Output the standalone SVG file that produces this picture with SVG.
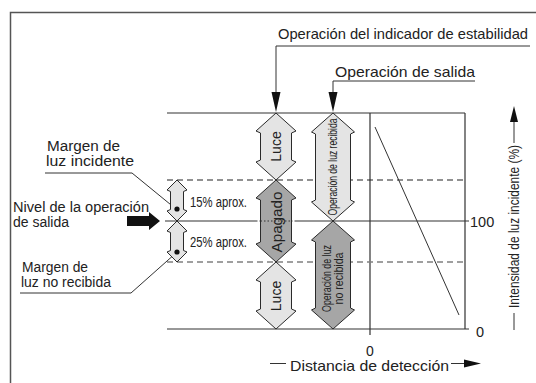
<svg xmlns="http://www.w3.org/2000/svg" width="536" height="383" viewBox="0 0 536 383">
<style>
text{font-family:"Liberation Sans",Arial,sans-serif;fill:#222;}
.lbl{font-size:14.5px;}
.two{font-size:14px;}
.ln{stroke:#333;stroke-width:1.2;fill:none;}
.thin{stroke:#333;stroke-width:1;fill:none;}
.dash{stroke:#222;stroke-width:1.1;stroke-dasharray:6 4;fill:none;}
.dash2{stroke:#808080;stroke-width:1.3;stroke-dasharray:6 4;fill:none;}
.dot{stroke:#333;stroke-width:1;stroke-dasharray:1.5 2;fill:none;}
.light{fill:#e4e4e4;stroke:#2a2a2a;stroke-width:1;}
.dark{fill:#a6a6a6;stroke:#2a2a2a;stroke-width:1;}
.blk{fill:#111;}
</style>
<rect width="536" height="383" fill="#fff"/>
<path d="M10.5,383 V12.5 H536" stroke="#555" stroke-width="1.5" fill="none"/>

<g id="grid">
<path class="ln" d="M167,113 H465 M167,329 H469 M370,113 V335 M465,113 V329"/>
<path class="ln" d="M165,221 H256 M296,221 H469"/>
<path class="dot" d="M256,221 H296"/>
<path class="dash" d="M167,180 H465"/>
<path class="dash2" d="M167,262 H465"/>
<path class="thin" d="M375,127 L459,315"/>
</g>

<g id="connectors">
<path class="thin" d="M45,173 H132 L176,209"/>
<path class="thin" d="M20,293 H131 L176,253"/>
<path class="thin" d="M530,46 H276 V93"/>
<polygon class="blk" points="276,112 271.5,92 280.5,92"/>
<path class="thin" d="M475,81 H333 V93"/>
<polygon class="blk" points="333,112 328.5,92 337.5,92"/>
<polygon class="blk" points="127,216 149,216 149,212 160,221 149,230 149,226 127,226"/>
<path class="thin" d="M514,330 V313 M514,143 V120"/>
<polygon class="blk" points="514,106 518,122 510,122"/>
<path class="thin" d="M270,363.5 H286 M451,363.5 H466"/>
<polygon class="blk" points="481,363.5 464,359.5 464,367.5"/>
</g>

<g id="luce-top">
<polygon class="light" points="276,113 296,131 291.5,133 291.5,160 296,162 276,180 256,162 260.5,160 260.5,133 256,131"/>
<text transform="translate(281,146.5) rotate(-90)" font-size="14" text-anchor="middle">Luce</text>
</g>
<g id="apagado">
<polygon class="dark" points="276,180 296,198 291.5,200 291.5,242 296,244 276,262 256,244 260.5,242 260.5,200 256,198"/>
<path class="dot" d="M260.5,221 H291.5"/>
<text transform="translate(282,222) rotate(-90)" font-size="15" text-anchor="middle" textLength="61" lengthAdjust="spacingAndGlyphs">Apagado</text>
</g>
<g id="luce-bottom">
<polygon class="light" points="276,262 296,280 291.5,282 291.5,309 296,311 276,329 256,311 260.5,309 260.5,282 256,280"/>
<text transform="translate(281,296) rotate(-90)" font-size="14" text-anchor="middle">Luce</text>
</g>
<g id="op-luz-recibida">
<polygon class="light" points="333,113 354.5,132 350.5,134 350.5,200 354.5,202 333,221 311.5,202 315.5,200 315.5,134 311.5,132"/>
<text transform="translate(337,167) rotate(-90)" font-size="12" text-anchor="middle" textLength="97" lengthAdjust="spacingAndGlyphs">Operación de luz recibida</text>
</g>
<g id="op-luz-no-recibida">
<polygon class="dark" points="333,221 354.5,240 350.5,242 350.5,308 354.5,310 333,329 311.5,310 315.5,308 315.5,242 311.5,240"/>
<text transform="translate(330.5,278.5) rotate(-90)" font-size="12" text-anchor="middle" textLength="67" lengthAdjust="spacingAndGlyphs">Operación de luz</text>
<text transform="translate(343,278.5) rotate(-90)" font-size="12" text-anchor="middle" textLength="52" lengthAdjust="spacingAndGlyphs">no recibida</text>
</g>
<g id="margen-15">
<polygon class="light" points="177,180 187,190 183.5,191.5 183.5,209.5 187,211 177,221 167,211 170.5,209.5 170.5,191.5 167,190"/>
<circle cx="177" cy="209" r="2.6" class="blk"/>
<text x="190" y="207" font-size="14" textLength="57" lengthAdjust="spacingAndGlyphs">15% aprox.</text>
</g>
<g id="margen-25">
<polygon class="light" points="177,221 187,231 183.5,232.5 183.5,250.5 187,252 177,262 167,252 170.5,250.5 170.5,232.5 167,231"/>
<circle cx="177" cy="252" r="2.6" class="blk"/>
<text x="190" y="247" font-size="14" textLength="57" lengthAdjust="spacingAndGlyphs">25% aprox.</text>
</g>

<g id="labels">
<text class="lbl" x="278" y="39" textLength="250" lengthAdjust="spacingAndGlyphs">Operación del indicador de estabilidad</text>
<text class="lbl" x="335" y="77" textLength="140" lengthAdjust="spacingAndGlyphs">Operación de salida</text>
<text class="two" x="47" y="151" textLength="73" lengthAdjust="spacingAndGlyphs">Margen de</text>
<text class="two" x="46" y="166" textLength="88" lengthAdjust="spacingAndGlyphs">luz incidente</text>
<text class="two" x="13" y="212" textLength="136" lengthAdjust="spacingAndGlyphs">Nivel de la operación</text>
<text class="two" x="13" y="227">de salida</text>
<text class="two" x="22" y="272" textLength="66" lengthAdjust="spacingAndGlyphs">Margen de</text>
<text class="two" x="21" y="287" textLength="90" lengthAdjust="spacingAndGlyphs">luz no recibida</text>
<text class="lbl" x="470" y="227">100</text>
<text class="lbl" x="476" y="337">0</text>
<text x="370" y="356" font-size="14" text-anchor="middle">0</text>
<text class="lbl" x="290" y="370.5" textLength="159" lengthAdjust="spacingAndGlyphs">Distancia de detección</text>
<text class="lbl" transform="translate(519,308) rotate(-90)" textLength="163" lengthAdjust="spacingAndGlyphs">Intensidad de luz incidente (%)</text>
</g>
</svg>
